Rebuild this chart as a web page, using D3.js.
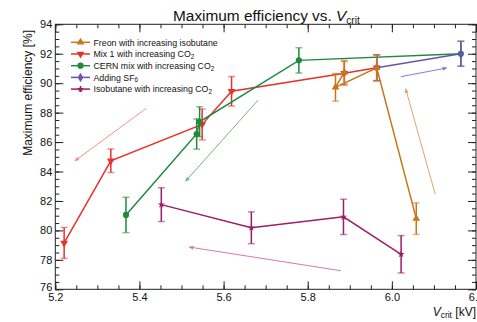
<!DOCTYPE html>
<html>
<head>
<meta charset="utf-8">
<script src="https://cdn.jsdelivr.net/npm/d3@7"></script>
<style>
  body { margin: 0; background: #fff; }
  svg { display: block; font-family: 'Liberation Sans', Arial, sans-serif; }
</style>
</head>
<body>
<svg id="chart" width="477" height="322"></svg>
<script>
// values: [Vcrit kV, efficiency %, error]
const freon = [[6.058, 80.8, 1.07], [5.964, 91.05, 0.88], [5.866, 89.72, 0.94], [5.887, 90.75, 0.8]]
const mix1 = [[5.221, 79.15, 1.05], [5.332, 84.73, 0.8], [5.549, 87.2, 1.05], [5.619, 89.45, 1.0], [5.887, 90.67, 0.8], [5.964, 91.05, 0.88]]
const cern = [[5.368, 81.05, 1.2], [5.536, 86.55, 1.03], [5.543, 87.38, 1.02], [5.779, 91.55, 0.86], [6.164, 92.0, 0.85]]
const sf6 = [[5.964, 91.05, 0.88], [6.164, 92.0, 0.85]]
const isobutane = [[5.452, 81.75, 1.15], [5.666, 80.18, 1.08], [5.885, 80.92, 1.2], [6.022, 78.38, 1.27]]

// trend arrows: [x from, y from, x to, y to]
const freonArrow = [6.103, 82.47, 6.033, 89.6]
const mix1Arrow = [5.416, 88.29, 5.247, 84.73]
const cernArrow = [5.682, 88.85, 5.51, 83.35]
const sf6Arrow = [6.021, 90.44, 6.13, 91.03]
const isoArrow = [5.879, 77.26, 5.519, 78.87]

const legendNames = [
  ['Freon with increasing isobutane', ''],
  ['Mix 1 with increasing CO', '2'],
  ['CERN mix with increasing CO', '2'],
  ['Adding SF', '6'],
  ['Isobutane with increasing CO', '2']
]

const xTickValues = [5.2, 5.4, 5.6, 5.8, 6.0, 6.2]
const xTickText = ['5.2', '5.4', '5.6', '5.8', '6.0', '6.2']
const yTickValues = [76, 78, 80, 82, 84, 86, 88, 90, 92, 94]

const colors = {
  freon: '#c87618', mix1: '#e8302a', cern: '#1f8a3e', sf6: '#6a52b4', iso: '#9c1c68'
}
const arrowColors = {
  freon: '#e3a468', mix1: '#f39088', cern: '#6cb887', sf6: '#8a7ad8', iso: '#d47aa8'
}

const svg = d3.select('#chart')
const margin = { left: 55.3, right: 476, top: 24.3, bottom: 289.3 }

const x = d3.scaleLinear().domain([5.2, 6.2]).range([margin.left, margin.right])
const y = d3.scaleLinear().domain([76, 94]).range([margin.bottom, margin.top])

const xMinor = d3.range(0, 21).map(i => 5.2 + i * 0.05)
const yMinor = d3.range(0, 37).map(i => 76 + i * 0.5)

// Frame + ticks (all four sides, pointing inward)
const axes = svg.append('g').attr('class', 'axes')
const fmtX = d => xTickText[xTickValues.findIndex(v => Math.abs(v - d) < 1e-6)]

const addAxis = (axisFn, scale, values, size, transform, labels, fmt) => {
  const a = axisFn(scale).tickValues(values).tickSizeInner(size).tickSizeOuter(0)
    .tickPadding(labels ? -size + 2.5 : 0)
    .tickFormat(labels ? fmt : () => '')
  const g = axes.append('g').attr('transform', transform).call(a)
  g.select('.domain').remove()
  g.selectAll('line').attr('stroke', '#222').attr('stroke-width', 1)
  g.selectAll('text').attr('fill', '#111').style('font-size', '11px')
    .style('font-family', "'Liberation Sans', Arial, sans-serif")
  return g
}

addAxis(d3.axisBottom, x, xMinor, -4, `translate(0,${margin.bottom})`, false)
const xLab = addAxis(d3.axisBottom, x, xTickValues, -8, `translate(0,${margin.bottom})`, true, fmtX)
xLab.selectAll('text').attr('y', 3.5)
addAxis(d3.axisTop, x, xMinor, -4, `translate(0,${margin.top})`, false)
addAxis(d3.axisTop, x, xTickValues, -8, `translate(0,${margin.top})`, false)
addAxis(d3.axisLeft, y, yMinor, -4, `translate(${margin.left},0)`, false)
const yLab = addAxis(d3.axisLeft, y, yTickValues, -8, `translate(${margin.left},0)`, true, d => d)
yLab.selectAll('text').attr('x', -3)
// lowest label sits a little higher, as in the original
yLab.selectAll('.tick').filter(d => d === 76).select('text').attr('y', -2.5)
addAxis(d3.axisRight, y, yMinor, -4, `translate(${margin.right},0)`, false)
addAxis(d3.axisRight, y, yTickValues, -8, `translate(${margin.right},0)`, false)

axes.append('rect')
  .attr('x', margin.left).attr('y', margin.top)
  .attr('width', margin.right - margin.left).attr('height', margin.bottom - margin.top)
  .attr('fill', 'none').attr('stroke', '#222').attr('stroke-width', 1)

// Arrows
const defs = svg.append('defs')
const drawArrow = (a, key) => {
  defs.append('marker')
    .attr('id', 'head-' + key)
    .attr('viewBox', '0 0 10 10').attr('refX', 8).attr('refY', 5)
    .attr('markerWidth', 5).attr('markerHeight', 5).attr('orient', 'auto')
    .append('path').attr('d', 'M0,1 L10,5 L0,9 z').attr('fill', arrowColors[key])
  svg.append('line')
    .attr('x1', x(a[0])).attr('y1', y(a[1]))
    .attr('x2', x(a[2])).attr('y2', y(a[3]))
    .attr('stroke', arrowColors[key]).attr('stroke-width', 1)
    .attr('marker-end', `url(#head-${key})`)
}
drawArrow(mix1Arrow, 'mix1')
drawArrow(cernArrow, 'cern')
drawArrow(isoArrow, 'iso')
drawArrow(freonArrow, 'freon')
drawArrow(sf6Arrow, 'sf6')

const symbols = {
  freon: d3.symbol().type(d3.symbolTriangle).size(26),
  mix1: d3.symbol().type(d3.symbolTriangle).size(26),
  cern: d3.symbol().type(d3.symbolCircle).size(30),
  sf6: d3.symbol().type(d3.symbolDiamond).size(26),
  iso: d3.symbol().type(d3.symbolStar).size(16)
}
const rotations = { freon: 0, mix1: 180, cern: 0, sf6: 0, iso: 0 }

const line = d3.line().x(d => x(d[0])).y(d => y(d[1]))

const drawSeries = (pts, key) => {
  const c = colors[key]
  const g = svg.append('g').attr('class', 'series series--' + key)

  g.append('path').datum(pts)
    .attr('d', line).attr('fill', 'none')
    .attr('stroke', c).attr('stroke-width', 1.5)

  const err = g.selectAll('g.err').data(pts).enter().append('g').attr('class', 'err')
  err.append('line')
    .attr('x1', d => x(d[0])).attr('x2', d => x(d[0]))
    .attr('y1', d => y(d[1] - d[2])).attr('y2', d => y(d[1] + d[2]))
    .attr('stroke', c).attr('stroke-width', 1.5)
  err.selectAll('line.cap').data(d => [[d[0], d[1] - d[2]], [d[0], d[1] + d[2]]])
    .enter().append('line').attr('class', 'cap')
    .attr('x1', d => x(d[0]) - 3.5).attr('x2', d => x(d[0]) + 3.5)
    .attr('y1', d => y(d[1])).attr('y2', d => y(d[1]))
    .attr('stroke', c).attr('stroke-opacity', 0.55).attr('stroke-width', 1.5)

  g.selectAll('path.mark').data(pts).enter().append('path').attr('class', 'mark')
    .attr('d', symbols[key])
    .attr('transform', d => `translate(${x(d[0])},${y(d[1])}) rotate(${rotations[key]})`)
    .attr('fill', c)
}

drawSeries(mix1, 'mix1')
drawSeries(cern, 'cern')
drawSeries(sf6, 'sf6')
drawSeries(freon, 'freon')
drawSeries(isobutane, 'iso')

// Legend
const legendKeys = ['freon', 'mix1', 'cern', 'sf6', 'iso']
const legend = svg.append('g').attr('class', 'legend')
legendNames.forEach((n, i) => {
  const key = legendKeys[i]
  const ly = 42.3 + i * 11.7
  legend.append('line')
    .attr('x1', 71).attr('x2', 90).attr('y1', ly).attr('y2', ly)
    .attr('stroke', colors[key]).attr('stroke-width', 1.5)
  if (key === 'iso') {
    legend.append('line').attr('x1', 80.5).attr('x2', 80.5).attr('y1', ly - 3).attr('y2', ly + 3)
      .attr('stroke', colors[key]).attr('stroke-width', 1.5)
  }
  legend.append('path').attr('d', symbols[key])
    .attr('transform', `translate(80.5,${ly}) rotate(${rotations[key]})`)
    .attr('fill', colors[key])
  const t = legend.append('text')
    .attr('x', 93.5).attr('y', ly + 3.2)
    .style('font-size', '8.8px').attr('fill', '#111')
    .text(n[0])
  if (n[1]) t.append('tspan').attr('dy', 1.8).style('font-size', '6.3px').text(n[1])
})

// Title
const title = svg.append('text')
  .attr('x', 173).attr('y', 21)
  .style('font-size', '15.4px').attr('fill', '#111')
  .text('Maximum efficiency vs. ')
title.append('tspan').style('font-style', 'italic').text('V')
title.append('tspan').attr('dy', 2.5).style('font-size', '10px').text('crit')

// Axis titles
svg.append('text')
  .attr('transform', 'translate(31.5,30) rotate(-90)')
  .attr('text-anchor', 'end')
  .style('font-size', '12px').attr('fill', '#111')
  .text('Maximum efficiency [%]')

const xt = svg.append('text')
  .attr('x', 476).attr('y', 316)
  .attr('text-anchor', 'end')
  .style('font-size', '12px').attr('fill', '#111')
xt.append('tspan').style('font-style', 'italic').text('V')
xt.append('tspan').attr('dy', 1.5).style('font-size', '8.5px').text('crit')
xt.append('tspan').attr('dy', -1.5).text(' [kV]')
</script>
</body>
</html>
